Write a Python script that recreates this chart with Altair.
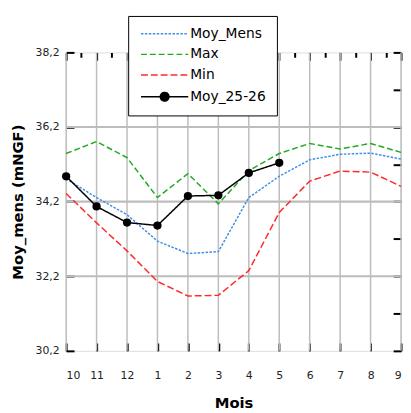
import altair as alt
import pandas as pd

months = ["10", "11", "12", "1", "2", "3", "4", "5", "6", "7", "8", "9"]
series_names = ["Moy_Mens", "Max", "Min", "Moy_25-26"]
moy_mens = [34.81, 34.31, 33.85, 33.14, 32.81, 32.86, 34.31, 34.88, 35.32, 35.47, 35.50, 35.34]
max_vals = [35.49, 35.81, 35.38, 34.31, 34.95, 34.14, 35.03, 35.49, 35.76, 35.61, 35.76, 35.52]
min_vals = [34.42, 33.63, 32.88, 32.06, 31.67, 31.69, 32.35, 33.91, 34.75, 35.02, 34.99, 34.61]
moy_2526 = [34.88, 34.07, 33.64, 33.56, 34.35, 34.37, 34.97, 35.24]

y_major = [30.2, 32.2, 34.2, 36.2, 38.2]
y_minor = [30.2, 31.2, 32.2, 33.2, 34.2, 35.2, 36.2, 37.2, 38.2]

colors = ["#3d8fe8", "#22aa22", "#ff2a2a", "#000000"]
dashes = [[2.5, 1.5], [6, 3], [7, 3], [1, 0]]
widths = [1.5, 1.5, 1.5, 2.5]

rows = []
for name, vals in zip(series_names, [moy_mens, max_vals, min_vals, moy_2526]):
    for i, v in enumerate(vals):
        rows.append({"idx": i, "month": months[i], "series": name, "value": v})
df = pd.DataFrame(rows)

n = len(months)
vgrid_df = pd.DataFrame({"idx": list(range(n))})
hgrid_df = pd.DataFrame({"gy": y_major[1:-1], "gx0": [0] * 3, "gx1": [n - 1] * 3})

label_expr = "[" + ",".join(f"'{m}'" for m in months) + "][datum.value]"
FONT = "DejaVu Sans"
GRID = "#bdbdbd"

line_path = "M-6,0H6"
dot_path = "M-6,0H6M-1.1,0A1.1,1.1,0,1,1,1.1,0A1.1,1.1,0,1,1,-1.1,0Z"
sym_expr = f"datum.value === 'Moy_25-26' ? '{dot_path}' : '{line_path}'"

legend = alt.Legend(
    title=None, orient="none", legendX=63, legendY=-37,
    fillColor="white", strokeColor="black", padding=11,
    symbolType=alt.expr(sym_expr), symbolSize=64, symbolFillColor="black",
    symbolStrokeWidth=2, symbolOffset=19, labelOffset=19,
    labelFont=FONT, labelFontSize=14, labelColor="black", rowPadding=7,
)

xscale = alt.Scale(domain=[0, n - 1], nice=False, zero=False)
yscale = alt.Scale(domain=[y_major[0], y_major[-1]], nice=False, zero=False)

x_bottom = alt.X(
    "idx:Q",
    scale=xscale,
    axis=alt.Axis(
        orient="bottom", values=list(range(n)), labelExpr=label_expr,
        offset=-8, tickSize=8, tickWidth=2, tickColor="black", domain=False,
        grid=False,
        labelPadding=19, labelFont=FONT, labelFontSize=11, labelColor="#222",
        title="Mois", titleFont=FONT, titleFontSize=15, titleFontWeight="bold",
        titleColor="black", titleX=170, titleY=61, titleBaseline="middle",
    ),
)
y_left = alt.Y(
    "value:Q",
    scale=yscale,
    axis=alt.Axis(
        orient="left", values=y_major,
        labelExpr="replace(format(datum.value, '.1f'), '.', ',')",
        offset=-8, tickSize=8, tickWidth=2, tickColor="black", domain=False,
        grid=False,
        labelPadding=7, labelFont=FONT, labelFontSize=11, labelColor="#222",
        title="Moy_mens (mNGF)", titleFont=FONT, titleFontSize=15,
        titleFontWeight="bold", titleColor="black", titleAngle=270,
        titleX=-57, titleY=151.5, titleBaseline="middle", titleAlign="center",
    ),
)

vgrid = alt.Chart(vgrid_df).mark_rule(color=GRID, strokeWidth=1.5).encode(
    x=alt.X("idx:Q", scale=xscale, axis=None)
)
hgrid = alt.Chart(hgrid_df).mark_rule(color=GRID, strokeWidth=2.2).encode(
    y=alt.Y("gy:Q", scale=yscale, axis=None),
    x=alt.X("gx0:Q", scale=xscale, axis=None),
    x2="gx1:Q",
)

lines = alt.Chart(df).mark_line().encode(
    x=x_bottom,
    y=y_left,
    color=alt.Color("series:N", scale=alt.Scale(domain=series_names, range=colors), legend=legend),
    strokeDash=alt.StrokeDash("series:N", scale=alt.Scale(domain=series_names, range=dashes), legend=legend),
    strokeWidth=alt.StrokeWidth("series:O", scale=alt.Scale(domain=series_names, range=widths), legend=None),
    order="idx:Q",
)

top_vals = [i / 2 for i in range(2 * (n - 1) + 1)]
points = alt.Chart(df[df["series"] == "Moy_25-26"]).mark_point(
    filled=True, size=70, color="black", opacity=1
).encode(
    x=alt.X(
        "idx:Q",
        axis=alt.Axis(
            orient="top", values=top_vals, offset=-8, tickSize=8, tickWidth=2,
            tickColor="black", domain=False, grid=False, labels=False, title=None,
            tickDash={"condition": {"test": "datum.value % 1 !== 0", "value": [0, 3, 5, 20]}, "value": [1, 0]},
        ),
    ),
    y=alt.Y(
        "value:Q",
        axis=alt.Axis(
            orient="right", values=y_minor, offset=-8, tickSize=8, tickWidth=2,
            tickColor="black", domain=False, grid=False, labels=False, title=None,
        ),
    ),
)

chart = alt.layer(vgrid, hgrid, lines, points).properties(
    width=340, height=303,
    autosize=alt.AutoSizeParams(type="none"),
    padding={"left": 59, "top": 42, "right": 2, "bottom": 60},
).configure_view(stroke="black", strokeWidth=2).configure(background="white")

chart.save("out.html", embed_options={"renderer": "svg", "actions": False})
